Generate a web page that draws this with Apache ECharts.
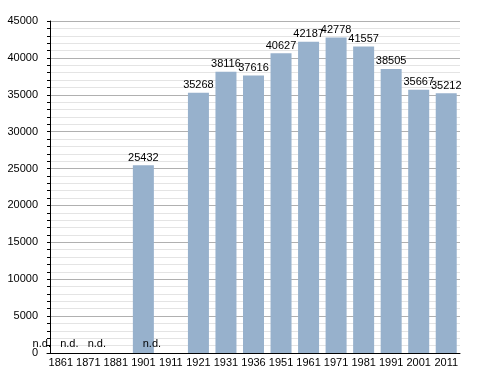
<!DOCTYPE html>
<html>
<head>
<meta charset="utf-8">
<script src="https://cdn.jsdelivr.net/npm/echarts@6/dist/echarts.min.js"></script>
<style>html,body{margin:0;padding:0;background:#fff}#c{width:488px;height:373px}</style>
</head>
<body>
<div id="c"></div>
<script>
var categories = ['1861','1871','1881','1901','1911','1921','1931','1936','1951','1961','1971','1981','1991','2001','2011'];
var population = [null, null, null, 25432, null, 35268, 38116, 37616, 40627, 42187, 42778, 41557, 38505, 35667, 35212];
var yTicks = [0, 5000, 10000, 15000, 20000, 25000, 30000, 35000, 40000, 45000];

var barData = population.map(function (v) {
  if (v == null) {
    return { value: 0, label: { formatter: 'n.d.', offset: [-19, -2] } };
  }
  return v;
});

var chart = echarts.init(document.getElementById('c'));
chart.setOption({
  animation: false,
  backgroundColor: '#fff',
  grid: { left: 47, right: 28, top: 21, bottom: 20 },
  xAxis: {
    type: 'category',
    data: categories,
    axisLine: { lineStyle: { color: '#000', width: 1 } },
    axisTick: { show: false },
    axisLabel: { color: '#000', fontSize: 11, fontFamily: 'Liberation Sans, Arial, sans-serif', margin: 4, interval: 0 }
  },
  yAxis: {
    type: 'value',
    min: 0,
    max: 45000,
    interval: 5000,
    offset: -3,
    axisLine: { show: true, lineStyle: { color: '#000', width: 1 } },
    axisTick: { show: true, length: 3, lineStyle: { color: '#000' } },
    minorTick: { show: true, splitNumber: 5, length: 3, lineStyle: { color: '#000' } },
    splitLine: { show: true, lineStyle: { color: '#b0b0b0', width: 1 } },
    minorSplitLine: { show: true, lineStyle: { color: '#e4e4e4', width: 1 } },
    axisLabel: {
      color: '#000', fontSize: 11, fontFamily: 'Liberation Sans, Arial, sans-serif', margin: 12,
      formatter: function (v) { return yTicks.indexOf(v) >= 0 ? String(v) : ''; }
    }
  },
  series: [{
    type: 'bar',
    data: barData,
    barWidth: 21,
    itemStyle: { color: '#97b1cc' },
    label: {
      show: true,
      position: 'top',
      distance: 2,
      color: '#000',
      fontSize: 11,
      fontFamily: 'Liberation Sans, Arial, sans-serif'
    }
  }]
});
</script>
</body>
</html>
